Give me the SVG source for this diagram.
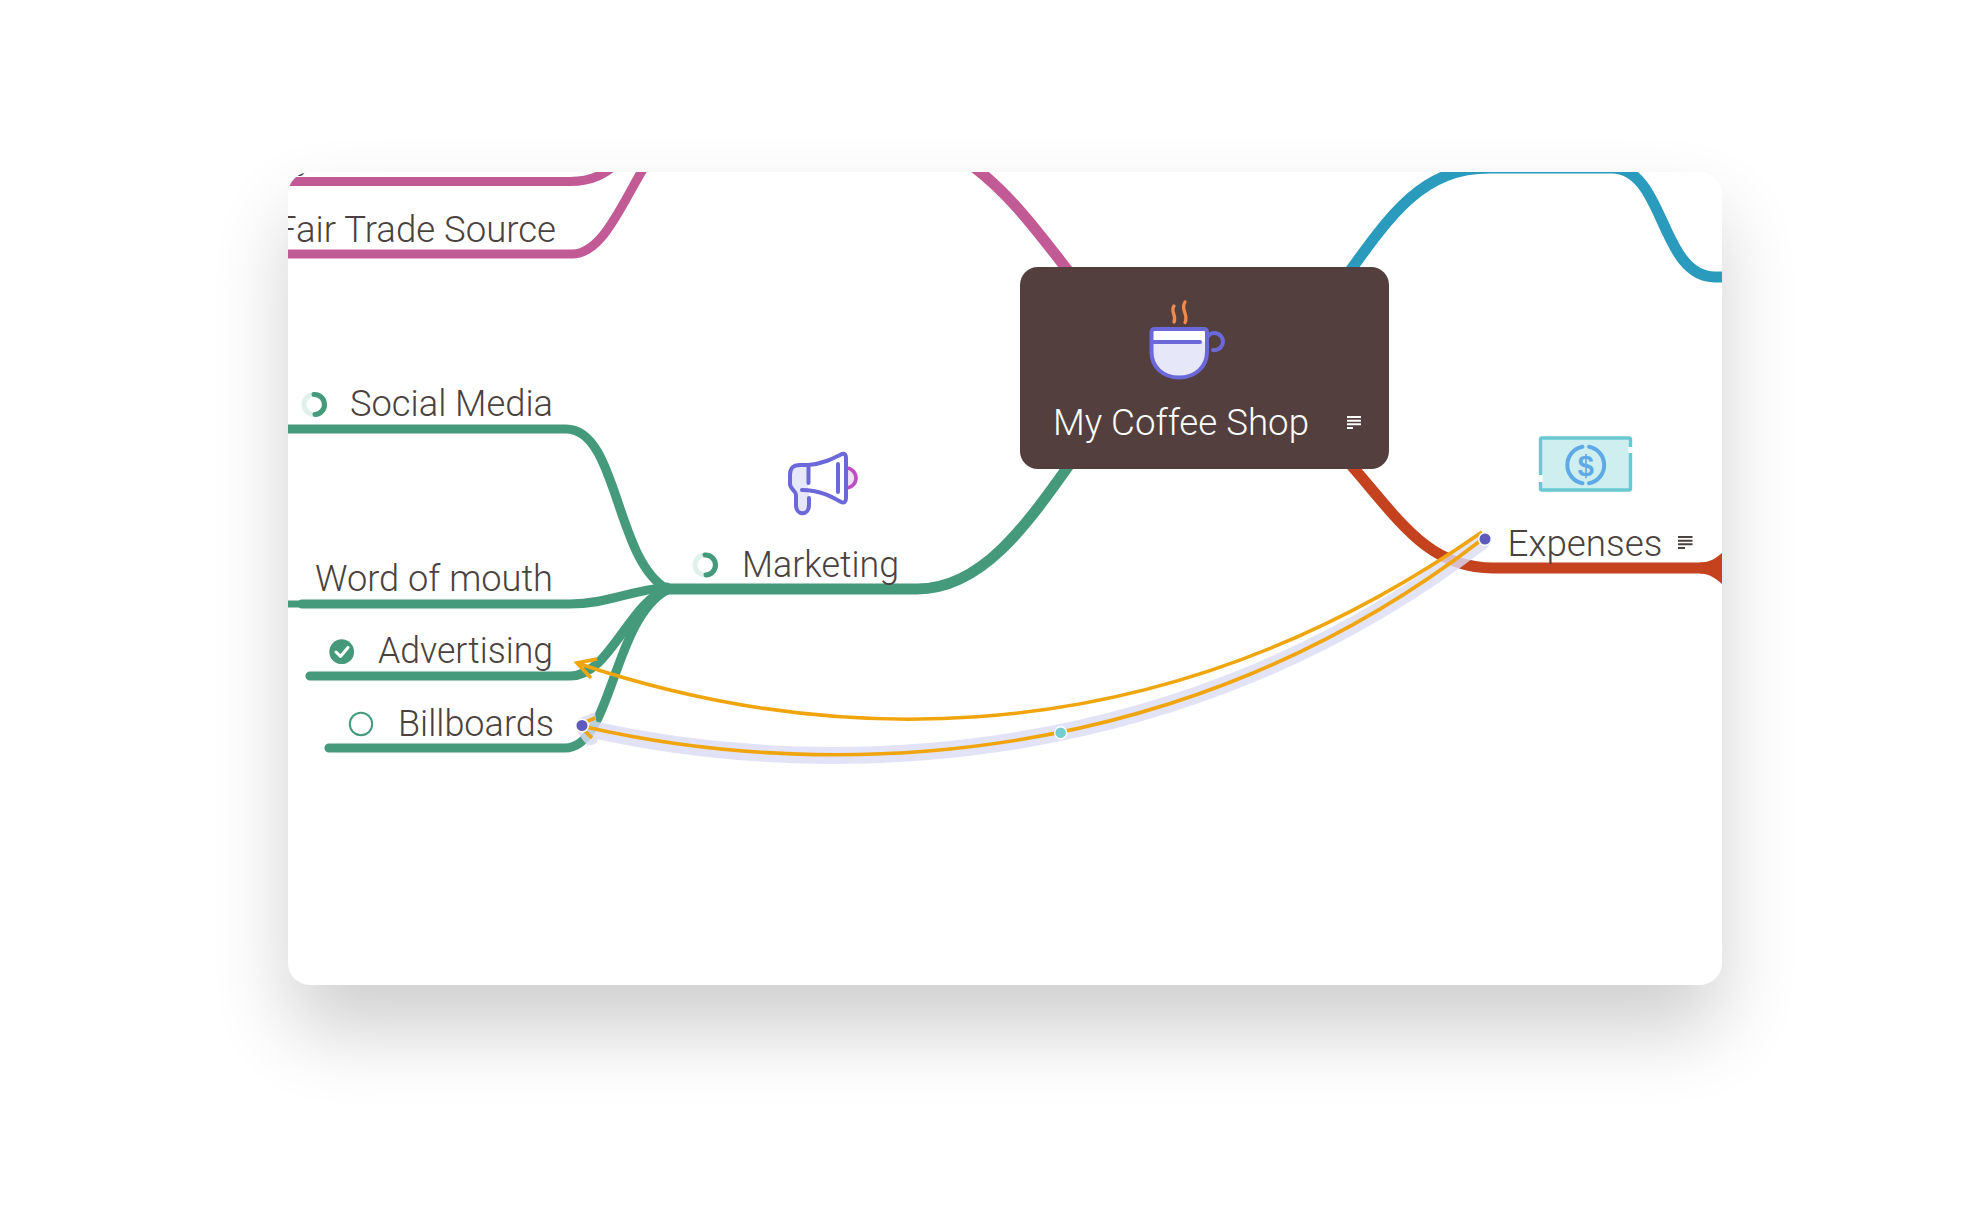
<svg xmlns="http://www.w3.org/2000/svg" width="1981" height="1223" viewBox="0 0 1981 1223">
<style>
.t{font-family:"Roboto","Liberation Sans",sans-serif;font-weight:300;font-size:37px;fill:#4a423e}
.b{fill:none;stroke-linecap:round;stroke-linejoin:round}
.g{stroke:#459a7c;stroke-width:9.200}
.p{stroke:#c25a96;stroke-width:9.200}
.o{fill:none;stroke:#f0a50f;stroke-width:3.600;stroke-linecap:butt}
.i{fill:none;stroke:#6b68da;stroke-width:4;stroke-linecap:round;stroke-linejoin:round}
.dot{fill:#5f5bbd;stroke:#fff;stroke-width:1.500}
</style>
<defs>
<filter id="sh" x="-30%" y="-30%" width="160%" height="170%"><feGaussianBlur stdDeviation="40"/></filter>
<clipPath id="card"><rect x="288" y="172" width="1434" height="813" rx="22"/></clipPath>
</defs>
<rect width="1981" height="1223" fill="#fff"/>
<rect x="290" y="213" width="1430" height="817" rx="22" fill="#000" opacity=".19" filter="url(#sh)"/>
<rect x="288" y="172" width="1434" height="813" rx="22" fill="#fff"/>
<g clip-path="url(#card)">
<g id="connectors">
<path class="b p" d="M280 181.500H570C600 181.500 610 168 625 158"/>
<path class="b p" d="M280 254H572C605 254 625 195 650 158"/>
<path class="b p" style="stroke-width:11" d="M964 160C1009 190 1044 240 1079 285"/>
<path class="b" stroke="#2a9bbd" stroke-width="11" d="M1335 292C1390 215 1420 168 1490 168H1612C1665 168 1660 277 1715 277H1730"/>
<path class="b" stroke="#c4421d" stroke-width="11" d="M1335 447C1395 512 1422 568 1493 568H1705"/>
<path fill="#c4421d" d="M1700 562.500C1710 562.500 1716 558 1722 553V584C1716 579 1710 573.500 1700 573.500Z"/>
<path class="b" stroke="#459a7c" stroke-width="11" d="M1082 447C1030 520 985 589 917 589H667"/>
<path class="b g" d="M280 429H566C618 429 615 560 667 589"/>
<path class="b g" style="stroke-width:7" d="M280 604H310"/>
<path class="b g" d="M302 604H570C605 604 625 592 667 587"/>
<path class="b g" d="M310 676H570C610 676 630 600 667 590"/>
<path class="b g" d="M329 748H565C612 748 612 620 667 590"/>
<g opacity=".8">
<path fill="none" stroke="#dcdcf6" stroke-width="17" stroke-linecap="round" d="M590 729C840 785 1190 765 1482 541"/>
<path fill="#dcdcf6" d="M575 726Q574 720 582 717L595 712L598 733L597 742Q593 746 587 745Q578 735 575 726Z"/>
</g>
<path class="o" d="M577 663C790 735 1130 778 1482 532"/>
<path class="o" d="M586 727C840 785 1190 765 1480 541"/>
<path class="o" d="M597 659L577 663L591 678"/>
<path class="o" d="M595 718L581 724M592 738L581 727"/>
</g>
<circle cx="1060.700" cy="732.700" r="6" fill="#73cdd1" stroke="#fff" stroke-width="1.500"/>
<circle cx="582" cy="725.500" r="6.300" class="dot"/>
<circle cx="1485" cy="539" r="6.300" class="dot"/>
<g id="node-root">
<rect x="1020" y="267" width="369" height="202" rx="18" fill="#533f3d"/>
<path d="M1174 306c-4 6 3 9 0 16M1185 302c-5 8 4 12 0 20.500" fill="none" stroke="#f28a4c" stroke-width="3.300" stroke-linecap="round"/>
<path d="M1152 329H1206V350C1206 366 1194 378 1179 378C1164 378 1152 366 1152 350Z" fill="#e6e7f8"/>
<path d="M1152 329H1206V342H1152Z" fill="#fff"/>
<path class="i" d="M1155 329H1204Q1207 329 1207 332V352C1207 367 1195 377.500 1179 377.500C1163 377.500 1151.500 367 1151.500 352V332Q1151.500 329 1155 329ZM1153 342H1200M1208 336A8.500 8.500 0 1 1 1213 350"/>
<text x="1053" y="435" class="t" style="fill:#fff" textLength="256" lengthAdjust="spacingAndGlyphs">My Coffee Shop</text>
<path d="M1347 417H1361M1347 420.700H1361M1347 424.300H1361M1347 428H1353" stroke="#fff" stroke-width="2" fill="none"/>
</g>
<g id="node-marketing">
<path d="M846 468a10 10 0 0 1 0 20Z" fill="#f0e0f4" stroke="#bb50c4" stroke-width="3.600"/>
<path d="M808 465C822 464 832 459 842 454Q846 453 846 458V498Q846 504 841 502C832 497 820 490 802 490L808 480Z" fill="#fff"/>
<path d="M800 465C793 465 790 468 790 475V484C790 489 796 491 796 495V505C796 516 809 516 809 505V490H808V465Z" fill="#e6e7f8"/>
<path class="i" d="M808 465C822 464 832 459 842 454Q846 453 846 458V498Q846 504 841 502C832 497 820 490 802 490M808 465H800C793 465 790 468 790 475V484C790 489 796 491 796 495V505C796 516 809 516 809 505V498M808.500 465V483M838 464V492"/>
<circle cx="705" cy="565" r="10" fill="none" stroke="#e0f1ec" stroke-width="5"/>
<path d="M705 555a10 10 0 0 1 1 20" fill="none" stroke="#459a7c" stroke-width="5" stroke-linecap="round"/>
<text x="742" y="577" class="t" textLength="157" lengthAdjust="spacingAndGlyphs">Marketing</text>
</g>
<g id="node-expenses">
<rect x="1540.500" y="438" width="90" height="52" rx="1.500" fill="#cfeef0" stroke="#68c9d4" stroke-width="3.400"/>
<path d="M1630.500 447V453M1540.500 475V482" stroke="#fff" stroke-width="4.500" fill="none"/>
<path d="M1589 446.800A18.500 18.500 0 0 1 1589 483.200M1582.500 483.200A18.500 18.500 0 0 1 1582.500 446.800" fill="none" stroke="#5eaae6" stroke-width="4" stroke-linecap="round"/>
<text x="1585.700" y="475.500" text-anchor="middle" style="font-family:'Liberation Sans',sans-serif;font-weight:700;font-size:29px;fill:#5eaae6">$</text>
<text x="1507.500" y="556" class="t" textLength="155" lengthAdjust="spacingAndGlyphs">Expenses</text>
<path d="M1678 537H1692.500M1678 540.700H1692.500M1678 544.300H1692.500M1678 548H1685" stroke="#4a423e" stroke-width="2" fill="none"/>
</g>
<g id="node-social">
<circle cx="314" cy="404.500" r="10" fill="none" stroke="#e0f1ec" stroke-width="5"/>
<path d="M314 394.500a10 10 0 0 1 1 20" fill="none" stroke="#459a7c" stroke-width="5" stroke-linecap="round"/>
<text x="350" y="416" class="t" textLength="203" lengthAdjust="spacingAndGlyphs">Social Media</text>
</g>
<g id="node-word"><text x="315" y="591" class="t" textLength="238" lengthAdjust="spacingAndGlyphs">Word of mouth</text></g>
<g id="node-advertising">
<circle cx="341.700" cy="651.700" r="12.400" fill="#459a7c"/>
<path d="M336 652l4.500 4.500l7.500 -9" fill="none" stroke="#fff" stroke-width="3" stroke-linecap="round" stroke-linejoin="round"/>
<text x="378" y="663" class="t" textLength="175" lengthAdjust="spacingAndGlyphs">Advertising</text>
</g>
<g id="node-billboards">
<circle cx="361" cy="724" r="11.200" fill="none" stroke="#459a7c" stroke-width="2"/>
<text x="398" y="736" class="t" textLength="156" lengthAdjust="spacingAndGlyphs">Billboards</text>
</g>
<g id="node-fair"><text x="276" y="242" class="t" textLength="280" lengthAdjust="spacingAndGlyphs">Fair Trade Source</text></g>
<g id="node-cut"><text x="296" y="167.500" class="t">y</text></g>
</g>
</svg>
